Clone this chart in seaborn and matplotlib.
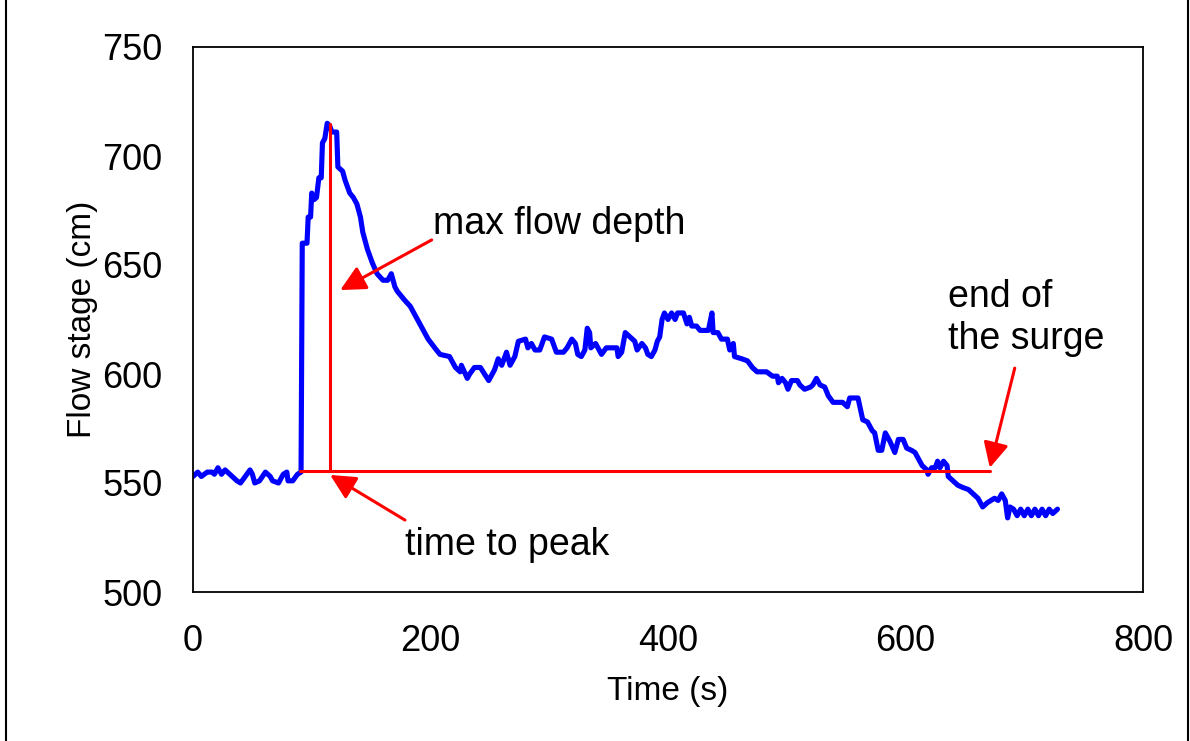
import matplotlib
matplotlib.use("Agg")
import matplotlib.pyplot as plt
import matplotlib.patches as patches
import seaborn as sns
import pandas as pd

# flow stage record
time_s = [0, 4, 7, 12, 16, 18, 21, 24, 27, 31, 37, 40, 44, 48, 50, 52, 56, 61, 65, 67,
          72, 76, 79, 80, 84, 88, 91,
          92, 96, 97, 99, 100, 102, 104, 106, 108, 109, 111, 113, 115, 117, 121, 122,
          126, 128, 132, 135, 138, 141, 143, 147, 151, 155, 160, 164, 167, 170, 172,
          178, 183, 189, 194, 198, 205, 208, 216, 221, 225, 226, 231, 233, 237, 242,
          249, 254, 257, 260, 264, 267, 271, 274, 280, 282, 285, 288, 292, 296, 302,
          306, 312, 315, 319, 322, 324, 327, 330, 332, 334, 335, 339, 343, 344, 348,
          357, 358, 361, 364, 368, 372, 374, 378, 381, 383, 386, 389, 391, 393, 395,
          397, 400, 403, 406, 408, 413, 416, 418, 420, 424, 427, 434, 437, 438, 442,
          445, 450, 452, 455, 456, 462, 467, 471, 475, 483, 488, 492, 493, 496, 499,
          501, 504, 509, 511, 515, 520, 522, 525, 528, 532, 535, 539, 543, 547, 551,
          553, 560, 562, 564, 568, 572, 574, 577, 580, 583, 587, 591, 594, 598, 601,
          605, 608, 611, 614, 618, 619, 622, 625, 627, 629, 632, 635, 636, 640, 644,
          648, 653, 657, 661, 665, 669, 675, 678, 681, 684, 686, 688, 691, 694, 697,
          700, 703, 706, 709, 712, 715, 718, 721, 724, 728]
stage_cm = [553, 555, 553, 555, 555, 554, 557, 554, 556, 554, 551, 550, 553, 556, 554, 550, 551, 555, 553, 551,
            550, 554, 555, 551, 551, 554, 555,
            660, 660, 672, 672, 683, 680, 681, 690, 690, 706, 708, 715, 714, 711, 711, 695,
            693, 689, 683, 681, 678, 672, 665, 657, 651, 646, 643, 643, 646, 640, 638,
            634, 631, 625, 620, 616, 611, 609, 608, 603, 601, 604, 598, 600, 603, 603,
            597, 602, 607, 604, 610, 604, 608, 615, 616, 612, 614, 611, 611, 617, 616,
            610, 610, 612, 616, 614, 609, 608, 611, 621, 619, 612, 614, 610, 609, 612,
            612, 608, 610, 619, 617, 615, 611, 614, 612, 609, 608, 611, 615, 617, 625,
            628, 625, 628, 625, 628, 628, 623, 626, 622, 622, 620, 620, 628, 619, 619,
            616, 616, 611, 614, 608, 607, 606, 603, 601, 601, 599, 599, 596, 598, 596,
            593, 597, 597, 595, 593, 594, 595, 598, 595, 594, 590, 587, 587, 587, 585,
            589, 589, 584, 579, 578, 574, 573, 565, 565, 573, 569, 564, 570, 570, 566,
            565, 564, 561, 558, 556, 554, 557, 557, 560, 557, 560, 558, 553, 551, 549,
            548, 547, 545, 543, 539, 541, 543, 542, 545, 542, 534, 539, 538, 535, 538,
            535, 538, 535, 538, 535, 538, 535, 538, 536, 538]

# annotation geometry
peak_t, peak_v = 115, 714.5
start_t, end_t, base_v = 90, 671, 555.5

df = pd.DataFrame({"Time (s)": time_s, "Flow stage (cm)": stage_cm})

sns.set_style("white")
plt.rcParams["font.family"] = ["Liberation Sans", "DejaVu Sans"]
plt.rcParams["text.color"] = "black"
plt.rcParams["axes.labelcolor"] = "black"
plt.rcParams["xtick.color"] = "black"
plt.rcParams["ytick.color"] = "black"

fig = plt.figure(figsize=(11.9, 7.41), dpi=100)
ax = fig.add_axes([193 / 1190, 1 - 592 / 741, 950 / 1190, 545 / 741])

sns.lineplot(data=df, x="Time (s)", y="Flow stage (cm)", color="#0000FF",
             lw=3.7, sort=False, ax=ax, solid_joinstyle="round")

red = "#FF0000"
ax.plot([peak_t, peak_t], [base_v, peak_v], color=red, lw=2.2)
ax.plot([start_t, end_t], [base_v, base_v], color=red, lw=2.2)

arrow = dict(arrowstyle="-|>", color=red, lw=2.2, mutation_scale=38, shrinkA=0, shrinkB=0)
ax.annotate("", xy=(124, 638.5), xytext=(201, 661.5), arrowprops=arrow)
ax.annotate("", xy=(115.5, 553.7), xytext=(178.5, 533), arrowprops=arrow)
ax.annotate("", xy=(671, 557), xytext=(692, 602.7), arrowprops=arrow)

ax.text(202, 668.8, "max flow depth", fontsize=27, ha="left", va="center")
ax.text(178.5, 521.6, "time to peak", fontsize=27, ha="left", va="center")
ax.text(635.8, 625.7, "end of\nthe surge", fontsize=27, ha="left", va="center")

ax.set_xlim(0, 800)
ax.set_ylim(500, 750)
ax.set_xticks([0, 200, 400, 600, 800])
ax.set_yticks([500, 550, 600, 650, 700, 750])
ax.tick_params(axis="both", length=0, labelsize=26)
ax.tick_params(axis="x", pad=23)
ax.tick_params(axis="y", pad=22)

ax.set_xlabel("Time (s)", fontsize=24)
ax.set_ylabel("Flow stage (cm)", fontsize=24)
ax.xaxis.set_label_coords(0.5, -0.155)
ax.yaxis.set_label_coords(-0.1, 0.5)

for s in ax.spines.values():
    s.set_color("black")
    s.set_linewidth(1.3)

# chart area border
fig.patches.append(patches.Rectangle((6 / 1190, -0.05), 1182 / 1190, 1.05 + (1 - 8 / 741),
                                     transform=fig.transFigure, fill=False,
                                     edgecolor="black", lw=1.5))

fig.savefig("out.png", dpi=100)
